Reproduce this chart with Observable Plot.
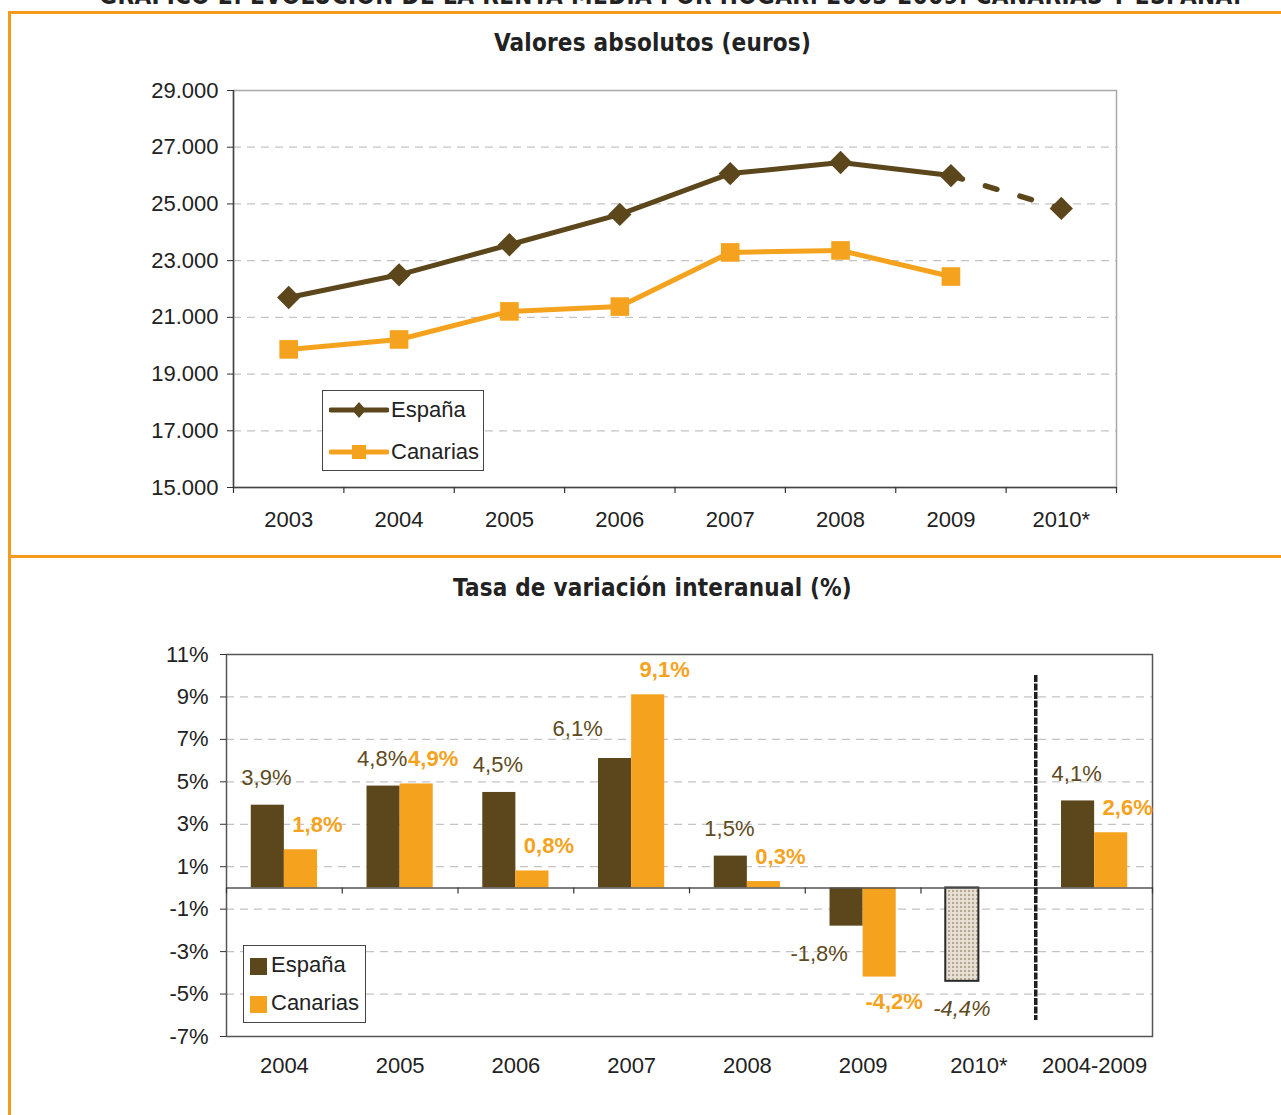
<!DOCTYPE html>
<html><head><meta charset="utf-8">
<script src="https://cdn.jsdelivr.net/npm/d3@7"></script>
<script src="https://cdn.jsdelivr.net/npm/@observablehq/plot@0.6"></script>
<style>
body{margin:0;background:#fff;}
#page{position:relative;width:1281px;height:1115px;overflow:hidden;font-family:"Liberation Sans",Arial,sans-serif;background:#fff;}
.title{position:absolute;left:0;width:1281px;text-align:center;font-family:"DejaVu Sans Condensed","DejaVu Sans",sans-serif;font-weight:bold;color:#222;white-space:nowrap;}
.hl{position:absolute;background:#F39A1F;}
.chart{position:absolute;left:0;}
.legend{position:absolute;border:1.5px solid #444;background:#fff;font-size:22px;color:#222;box-sizing:border-box;}
.legend .item{position:absolute;display:flex;align-items:center;line-height:22px;}
</style></head>
<body>
<div id="page">
  <div class="title" style="top:-17px;font-size:24px;line-height:26px;letter-spacing:0.4px;left:30px;">GRÁFICO 2.  EVOLUCIÓN DE LA RENTA MEDIA POR HOGAR. 2003-2009. CANARIAS Y ESPAÑA.</div>
  <div class="hl" style="left:8px;top:11px;width:1273px;height:2.5px;"></div>
  <div class="hl" style="left:8px;top:11px;width:2.5px;height:1104px;"></div>
  <div class="hl" style="left:8px;top:555px;width:1273px;height:2.5px;"></div>
  <div class="title" style="top:29px;left:12px;font-size:24px;line-height:28px;letter-spacing:0.2px;">Valores absolutos (euros)</div>
  <div class="title" style="top:574px;left:12px;font-size:24px;line-height:28px;letter-spacing:0.2px;">Tasa de variación interanual (%)</div>
  <div id="top" class="chart" style="top:70px;"></div>
  <div id="bottom" class="chart" style="top:630px;"></div>
  <div class="legend" style="left:322px;top:390px;width:162px;height:81px;">
    <div class="item" style="left:6px;top:8px;">
      <svg width="60" height="22"><line x1="2" y1="11" x2="58" y2="11" stroke="#5C471C" stroke-width="5" stroke-linecap="round"/><path d="M30,3 L37,11 L30,19 L23,11Z" fill="#5C471C"/></svg>
      <span style="margin-left:2px;">España</span>
    </div>
    <div class="item" style="left:6px;top:50px;">
      <svg width="60" height="22"><line x1="2" y1="11" x2="58" y2="11" stroke="#F5A31E" stroke-width="5" stroke-linecap="round"/><rect x="23" y="4" width="14" height="14" fill="#F5A31E"/></svg>
      <span style="margin-left:2px;">Canarias</span>
    </div>
  </div>
  <div class="legend" style="left:243px;top:945px;width:123px;height:78px;">
    <div class="item" style="left:6px;top:8px;">
      <svg width="18" height="22"><rect x="0" y="4" width="17" height="17" fill="#5C471C"/></svg>
      <span style="margin-left:3px;">España</span>
    </div>
    <div class="item" style="left:6px;top:46px;">
      <svg width="18" height="22"><rect x="0" y="4" width="17" height="17" fill="#F5A31E"/></svg>
      <span style="margin-left:3px;">Canarias</span>
    </div>
  </div>
</div>
<script>
// ---------- DATA ----------
const years = ["2003","2004","2005","2006","2007","2008","2009","2010*"];
const espanaEuros   = [21700, 22500, 23560, 24630, 26070, 26460, 26000, 24840];
const canariasEuros = [19870, 20220, 21210, 21380, 23290, 23360, 22440, null];
const yTicksTop = [15000, 17000, 19000, 21000, 23000, 25000, 27000, 29000];

const periods = ["2004","2005","2006","2007","2008","2009","2010*","2004-2009"];
const espanaRate   = [3.9, 4.8, 4.5, 6.1, 1.5, -1.8, -4.4, 4.1];
const canariasRate = [1.8, 4.9, 0.8, 9.1, 0.3, -4.2, null, 2.6];
const yTicksBottom = [-7, -5, -3, -1, 1, 3, 5, 7, 9, 11];
const projectedPeriod = "2010*";

// ---------- STYLE ----------
const BROWN = "#5C471C", ORANGE = "#F5A31E", LBROWN = "#5E4B22";
const FONT = "Liberation Sans, Arial, sans-serif";
const FS = 22;
const euro = d3.formatLocale({decimal: ",", thousands: ".", grouping: [3]}).format(",");
const pct = v => v.toFixed(1).replace(".", ",") + "%";

// ---------- TOP CHART ----------
{
  const W = 1281, H = 480, mL = 233, mR = 165, mT = 20, mB = 63;
  const bw = (W - mL - mR) / years.length;
  const rows = years.map((y, i) => ({year: y, espana: espanaEuros[i], canarias: canariasEuros[i]}));
  const espSolid = rows.filter(d => d.year !== "2010*");
  const espProj = rows.filter(d => d.year === "2009" || d.year === "2010*");
  const canRows = rows.filter(d => d.canarias != null);
  const chart = Plot.plot({
    width: W, height: H, marginLeft: mL, marginRight: mR, marginTop: mT, marginBottom: mB,
    style: {fontFamily: FONT, fontSize: FS + "px", color: "#222", background: "transparent"},
    x: {type: "band", domain: years, padding: 0, round: false, label: null},
    y: {domain: [15000, 29000], label: null},
    marks: [
      Plot.gridY(yTicksTop.slice(1, -1), {stroke: "#c4c4c4", strokeOpacity: 1, strokeWidth: 1.3, strokeDasharray: "8,6"}),
      Plot.frame({stroke: "#a8a8a8", strokeWidth: 1.5}),
      Plot.ruleY([15000], {stroke: "#444", strokeWidth: 1.5}),
      Plot.ruleX([years[0]], {dx: -bw / 2, stroke: "#444", strokeWidth: 1.5}),
      Plot.ruleX(years, {y1: 15000, y2: 15000, insetBottom: -6, dx: -bw / 2, stroke: "#333", strokeWidth: 1.2}),
      Plot.ruleX([years[years.length - 1]], {y1: 15000, y2: 15000, insetBottom: -6, dx: bw / 2, stroke: "#333", strokeWidth: 1.2}),
      Plot.axisY(yTicksTop, {tickSize: 6, tickPadding: 9, tickFormat: euro, fontSize: FS, fill: "#222", stroke: "#333", label: null}),
      Plot.axisX({tickSize: 0, tickPadding: 24, fontSize: FS, fill: "#222", label: null}),
      Plot.line(espSolid, {x: "year", y: "espana", stroke: BROWN, strokeWidth: 5}),
      Plot.line(espProj, {x: "year", y: "espana", stroke: BROWN, strokeWidth: 5.5, strokeDasharray: "12,24"}),
      Plot.line(canRows, {x: "year", y: "canarias", stroke: ORANGE, strokeWidth: 5}),
      Plot.dot(rows, {x: "year", y: "espana", symbol: "diamond2", r: 10.5, fill: BROWN}),
      Plot.dot(canRows, {x: "year", y: "canarias", symbol: "square", r: 10.5, fill: ORANGE})
    ]
  });
  document.getElementById("top").appendChild(chart);
}

// ---------- BOTTOM CHART ----------
{
  const W = 1281, H = 470, mL = 226, mR = 129, mT = 24, mB = 64;
  const bw = (W - mL - mR) / periods.length;
  const outer = bw * 0.214, half = bw * 0.5;
  const esp = periods.map((p, i) => ({period: p, v: espanaRate[i]}));
  const can = periods.map((p, i) => ({period: p, v: canariasRate[i]})).filter(d => d.v != null);
  const espReal = esp.filter(d => d.period !== projectedPeriod);
  const espProj = esp.filter(d => d.period === projectedPeriod);
  const espLabPos = espReal.filter(d => d.v >= 0 && d.v < 6);
  const espLabHigh = espReal.filter(d => d.v >= 6);
  const espLabNeg = espReal.filter(d => d.v < 0);
  const canPos = can.filter(d => d.v >= 0);
  const canNeg = can.filter(d => d.v < 0);
  const chart = Plot.plot({
    width: W, height: H, marginLeft: mL, marginRight: mR, marginTop: mT, marginBottom: mB,
    style: {fontFamily: FONT, fontSize: FS + "px", color: "#222", background: "transparent"},
    x: {type: "band", domain: periods, padding: 0, round: false, label: null},
    y: {domain: [-7, 11], label: null},
    marks: [
      Plot.gridY(yTicksBottom.slice(1, -1), {stroke: "#c4c4c4", strokeOpacity: 1, strokeWidth: 1.3, strokeDasharray: "8,6"}),
      Plot.barY(espReal, {x: "period", y: "v", fill: BROWN, insetLeft: outer, insetRight: half}),
      Plot.barY(can, {x: "period", y: "v", fill: ORANGE, insetLeft: half, insetRight: outer}),
      Plot.barY(espProj, {x: "period", y: "v", fill: "url(#dots)", stroke: "#2a2a2a", strokeWidth: 2, insetLeft: outer, insetRight: half}),
      Plot.frame({stroke: "#555", strokeWidth: 1.5}),
      Plot.ruleY([0], {stroke: "#555", strokeWidth: 1.5}),
      Plot.ruleX(periods, {y1: 0, y2: 0, insetBottom: -6, dx: -bw / 2, stroke: "#333", strokeWidth: 1.2}),
      Plot.ruleX([periods[periods.length - 1]], {y1: 0, y2: 0, insetBottom: -6, dx: bw / 2, stroke: "#333", strokeWidth: 1.2}),
      Plot.ruleX([periods[periods.length - 1]], {dx: -bw / 2 - 1, insetTop: 21, insetBottom: 16, stroke: "#1e1e1e", strokeWidth: 3.5, strokeDasharray: "7,1.5"}),
      Plot.axisY(yTicksBottom, {tickSize: 6, tickPadding: 12, tickFormat: d => d + "%", fontSize: FS, fill: "#222", stroke: "#333", label: null}),
      Plot.axisX({tickSize: 0, tickPadding: 21, fontSize: FS, fill: "#222", label: null}),
      Plot.text(espLabPos, {x: "period", y: "v", text: d => pct(d.v), dx: -18, dy: -27, fill: LBROWN, fontSize: FS}),
      Plot.text(espLabHigh, {x: "period", y: "v", text: d => pct(d.v), dx: -54, dy: -30, fill: LBROWN, fontSize: FS}),
      Plot.text(espLabNeg, {x: "period", y: "v", text: d => pct(d.v), dx: -44, dy: 28, fill: LBROWN, fontSize: FS}),
      Plot.text(espProj, {x: "period", y: "v", text: d => pct(d.v), dx: -17, dy: 28, fill: LBROWN, fontSize: FS, fontStyle: "italic"}),
      Plot.text(canPos, {x: "period", y: "v", text: d => pct(d.v), dx: 33, dy: -25, fill: ORANGE, fontSize: FS, fontWeight: "bold"}),
      Plot.text(canNeg, {x: "period", y: "v", text: d => pct(d.v), dx: 31, dy: 25, fill: ORANGE, fontSize: FS, fontWeight: "bold"})
    ]
  });
  chart.insertAdjacentHTML("afterbegin",
    '<defs><pattern id="dots" width="4" height="4" patternUnits="userSpaceOnUse">' +
    '<rect width="4" height="4" fill="#e6dfd2"/><rect x="0" y="0" width="2" height="2" fill="#b3a894"/></pattern></defs>');
  document.getElementById("bottom").appendChild(chart);
}
</script>
</body></html>
